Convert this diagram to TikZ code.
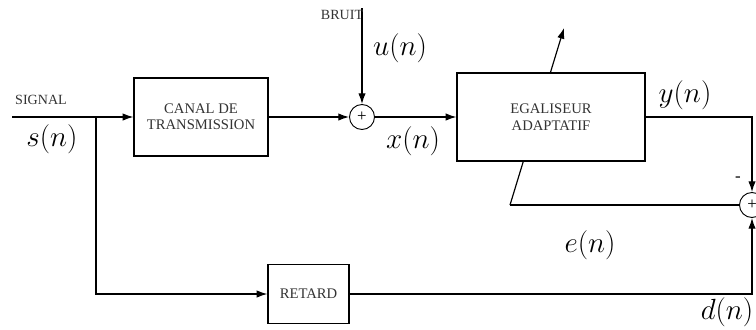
\documentclass[tikz,border=0pt]{standalone}
\usepackage{fontspec}
\setmainfont{Liberation Serif}
\usetikzlibrary{arrows.meta}
\usetikzlibrary{backgrounds}

\begin{document}
\begin{tikzpicture}[
            x=.03cm, y=-.03cm,
            bloc/.style={draw, line width=1pt, fill=white, align=center,
                inner sep=0pt, text=black!80, font=\fontsize{12.5}{14}\selectfont},
            somme/.style={draw, circle, line width=.8pt, fill=white,
                minimum size=.75cm, inner sep=0pt, font=\Large},
            fil/.style={line width=1pt},
            fl/.style={fil, -{Latex[length=3.2mm, width=2.2mm]}},
            lbl/.style={text=black!80, font=\fontsize{12}{13}\selectfont},
            sig/.style={font=\fontsize{25}{30}\selectfont},
        ]
            \useasboundingbox (0, 0) rectangle (756, 329);
            \clip (0, 0) rectangle (756, 329);

            %% blocs
            \node[bloc, minimum width=4.02cm, minimum height=2.34cm] (canal) at (201, 117) {CANAL DE\\TRANSMISSION};
            \node[somme] (som1) at (362, 117) {+};
            \node[bloc, minimum width=5.64cm, minimum height=2.64cm] (egal) at (551, 117) {EGALISEUR\\ADAPTATIF};
            \node[somme] (som2) at (752, 205) {+};
            \node[bloc, minimum width=2.43cm, minimum height=1.77cm] (retard) at (308.5, 294) {RETARD};

            \coordinate (entree) at (12, 117);
            \coordinate (bruit) at (362, 8);
            \coordinate (deriv) at (96, 117);
            \coordinate (ebas) at (510, 205);
            \coordinate (ehaut) at (564, 28);

            %% liaisons
            \draw[fl] (entree) -- (canal.west);
            \draw[fl] (canal.east) -- (som1);
            \draw[fl] (bruit) -- (som1);
            \draw[fl] (som1) -- (egal.west);
            \draw[fl] (egal.east) -| (som2.north);
            \draw[fl] (retard.east) -| (som2.south);
            \draw[fl] (deriv) |- (retard.west);
            \draw[fil] (som2.west) -- (ebas);

            %% adaptation, passe sous le bloc
            \begin{scope}[on background layer]
                \draw[fl] (ebas) -- (ehaut);
            \end{scope}

            %% etiquettes
            \node[lbl] (lsignal) at (41, 100) {SIGNAL};
            \node[lbl] (lbruit) at (342, 15) {BRUIT};
            \node[sig] (ls) at (52, 139) {$s(n)$};
            \node[sig] (lu) at (400, 48) {$u(n)$};
            \node[sig] (lx) at (413, 141) {$x(n)$};
            \node[sig] (ly) at (685, 95) {$y(n)$};
            \node[sig] (le) at (590, 245) {$e(n)$};
            \node[sig] (ld) at (727, 312) {$d(n)$};
            \node[font=\Large] (lmoins) at (738, 179) {-};
        \end{tikzpicture}
\end{document}
